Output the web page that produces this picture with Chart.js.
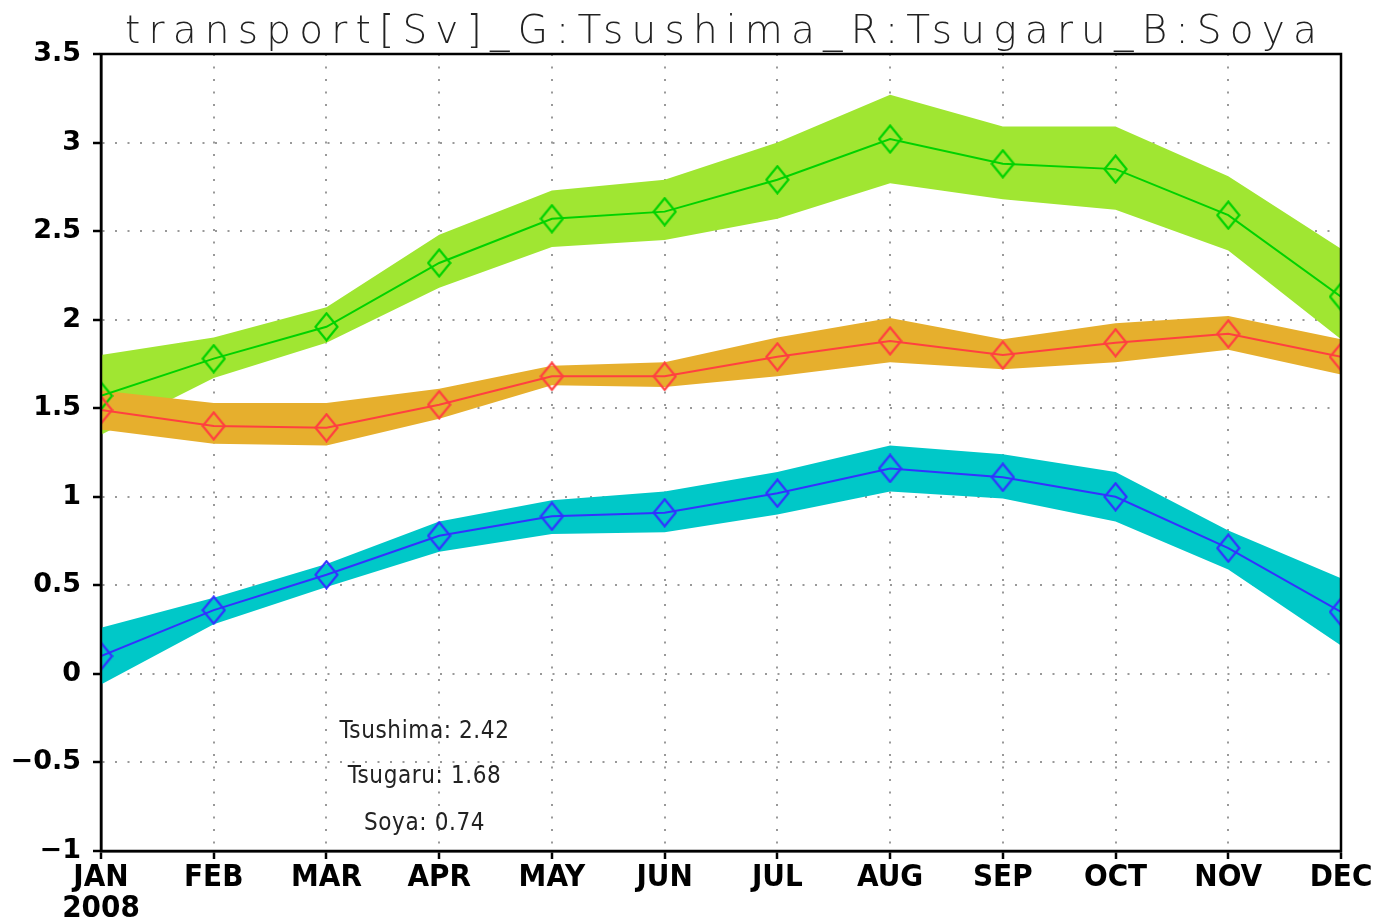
<!DOCTYPE html>
<html>
<head>
<meta charset="utf-8">
<script src="https://cdn.jsdelivr.net/npm/chart.js@4/dist/chart.umd.min.js"></script>
<style>
  html, body { margin: 0; padding: 0; background: #fff; }
  #wrap { width: 1391px; height: 920px; }
</style>
</head>
<body>
<div id="wrap"><canvas id="transportChart" width="1391" height="920"></canvas></div>
<script>
const chartTitle = "transport[Sv]_G:Tsushima_R:Tsugaru_B:Soya";
const months = ["JAN", "FEB", "MAR", "APR", "MAY", "JUN", "JUL", "AUG", "SEP", "OCT", "NOV", "DEC"];
const year = "2008";
const yTicks = { min: -1, max: 3.5, step: 0.5 };

// monthly means (Sv)
const tsushimaMean = [1.57, 1.78, 1.96, 2.32, 2.57, 2.61, 2.79, 3.02, 2.88, 2.85, 2.59, 2.13];
const tsushimaUpper = [1.80, 1.90, 2.07, 2.48, 2.73, 2.79, 3.00, 3.27, 3.09, 3.09, 2.81, 2.40];
const tsushimaLower = [1.35, 1.67, 1.87, 2.18, 2.41, 2.45, 2.57, 2.77, 2.68, 2.62, 2.39, 1.89];

const tsugaruMean = [1.49, 1.40, 1.39, 1.52, 1.68, 1.68, 1.79, 1.88, 1.80, 1.87, 1.92, 1.79];
const tsugaruUpper = [1.60, 1.53, 1.53, 1.61, 1.74, 1.76, 1.90, 2.01, 1.89, 1.98, 2.02, 1.89];
const tsugaruLower = [1.38, 1.30, 1.29, 1.44, 1.63, 1.62, 1.68, 1.76, 1.72, 1.76, 1.83, 1.69];

const soyaMean = [0.10, 0.36, 0.56, 0.78, 0.89, 0.91, 1.02, 1.16, 1.11, 1.00, 0.71, 0.35];
const soyaUpper = [0.26, 0.43, 0.62, 0.86, 0.98, 1.03, 1.14, 1.29, 1.24, 1.14, 0.81, 0.54];
const soyaLower = [-0.06, 0.28, 0.49, 0.69, 0.79, 0.80, 0.90, 1.03, 0.99, 0.86, 0.59, 0.16];

const annualLabels = ["Tsushima: 2.42", "Tsugaru: 1.68", "Soya: 0.74"];

// diamond marker, a bit taller than wide like the GrADS one
function diamond(color) {
  const c = document.createElement("canvas");
  c.width = 25; c.height = 30;
  const g = c.getContext("2d");
  g.strokeStyle = color;
  g.lineWidth = 2.2;
  g.beginPath();
  g.moveTo(12.5, 1.5);
  g.lineTo(23.5, 15);
  g.lineTo(12.5, 28.5);
  g.lineTo(1.5, 15);
  g.closePath();
  g.stroke();
  return c;
}

function band(data, color, order) {
  return {
    data: data,
    fill: color ? { target: "+1", above: color, below: color } : false,
    borderWidth: 0, pointRadius: 0, tension: 0, order: order, clip: 0
  };
}

function meanLine(data, color, order) {
  return {
    data: data, borderColor: color, borderWidth: 2, tension: 0, fill: false,
    pointStyle: diamond(color), pointRadius: 12, order: order, clip: 0
  };
}

const datasets = [
  band(tsushimaUpper, "#a0e632", 6),
  band(tsushimaLower, null, 6),
  band(tsugaruUpper, "#e6af2d", 5),
  band(tsugaruLower, null, 5),
  band(soyaUpper, "#00c8c8", 4),
  band(soyaLower, null, 4),
  meanLine(tsushimaMean, "#00d200", 3),
  meanLine(tsugaruMean, "#ff4040", 2),
  meanLine(soyaMean, "#3232ff", 1)
];

const framePlugin = {
  id: "frame",
  afterDraw(chart) {
    const { ctx, chartArea: a, scales } = chart;
    ctx.save();
    ctx.strokeStyle = "#000";
    ctx.lineWidth = 2.5;
    ctx.strokeRect(a.left, a.top, a.right - a.left, a.bottom - a.top);

    // title
    ctx.fillStyle = "#222";
    ctx.font = '200 39px "DejaVu Sans"';
    ctx.textAlign = "center";
    ctx.textBaseline = "alphabetic";
    ctx.letterSpacing = "0px";
    const w0 = ctx.measureText(chartTitle).width;
    const spacing = (1200 - w0) / chartTitle.length;
    ctx.letterSpacing = spacing.toFixed(2) + "px";
    ctx.fillText(chartTitle, (a.left + a.right) / 2 + spacing / 2, a.top - 11);

    // annual means
    ctx.letterSpacing = "0.6px";
    ctx.font = '24px "DejaVu Sans Condensed"';
    ctx.fillStyle = "#222";
    const ax = scales.x.getPixelForValue(2.87);
    const ay = [-0.36, -0.615, -0.88];
    annualLabels.forEach((t, i) => {
      ctx.fillText(t, ax, scales.y.getPixelForValue(ay[i]));
    });
    ctx.restore();
  }
};

new Chart(document.getElementById("transportChart"), {
  type: "line",
  data: {
    labels: months.map((m, i) => (i === 0 ? [m, year] : m)),
    datasets: datasets
  },
  options: {
    responsive: false,
    animation: false,
    layout: { padding: { top: 54, right: 50, left: 0, bottom: 0 } },
    plugins: { legend: { display: false }, tooltip: { enabled: false } },
    scales: {
      x: {
        offset: false,
        grid: {
          color: "#999", lineWidth: 2, tickLength: 8,
          tickColor: "#000", tickWidth: 2.5, tickBorderDash: []
        },
        border: { color: "#000", width: 2.5, dash: [2, 10.5] },
        ticks: {
          color: "#000", padding: 3, maxRotation: 0, autoSkip: false,
          font: { family: "DejaVu Sans Condensed", weight: "bold", size: 31, lineHeight: 1.0 }
        },
        afterFit(scale) { scale.height = 69; }
      },
      y: {
        min: yTicks.min, max: yTicks.max,
        grid: {
          color: "#999", lineWidth: 2, tickLength: 8,
          tickColor: "#000", tickWidth: 2.5, tickBorderDash: []
        },
        border: { color: "#000", width: 2.5, dash: [2, 10.5] },
        ticks: {
          stepSize: yTicks.step, color: "#000", padding: 12,
          font: { family: "DejaVu Sans", weight: "bold", size: 27 },
          callback: v => (v < 0 ? "\u2212" + Math.abs(v) : String(v))
        },
        afterFit(scale) { scale.width = 101; }
      }
    }
  },
  plugins: [framePlugin]
});
</script>
</body>
</html>
